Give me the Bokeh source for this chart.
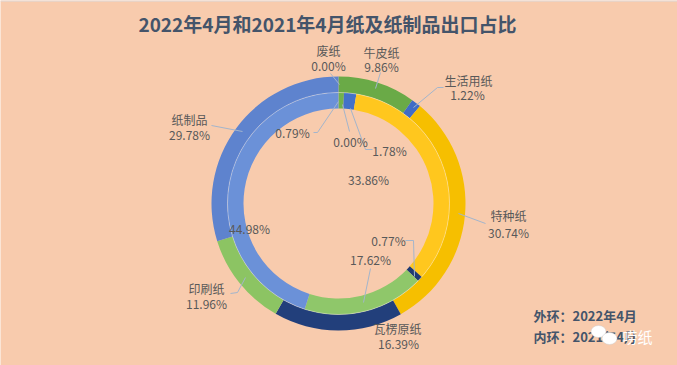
import numpy as np
from bokeh.plotting import figure
from bokeh.models import Range1d, ColumnDataSource
from bokeh.core.properties import value
from bokeh.embed import file_html
from bokeh.resources import INLINE

# ---------------- data ----------------
categories = ["废纸", "牛皮纸", "生活用纸", "特种纸", "瓦楞原纸", "印刷纸", "纸制品"]
share_2022 = [0.00, 9.86, 1.22, 30.74, 16.39, 11.96, 29.78]   # outer ring
share_2021 = [0.00, 0.79, 1.78, 33.86, 0.77, 17.62, 44.98]    # inner ring
title_text = "2022年4月和2021年4月纸及纸制品出口占比"
legend_lines = ["外环：2022年4月", "内环：2021年4月"]

# ---------------- style ----------------
BG = "#F8CBAD"
outer_colors = ["#6AAA47", "#6AAA47", "#3F6CC6", "#F6BF00", "#223F7B", "#8CC463", "#5E83CE"]
inner_colors = ["#79B855", "#72B24C", "#4472C8", "#FFC71E", "#1F3A72", "#8FC76A", "#6B91D8"]
FONT = value("Noto Sans CJK SC")
LABEL_COLOR = "#595959"
LEADER = "#A3B5CC"

W, H = 677, 365
def X(px):  # reference pixel -> data
    return px
def Y(py):
    return H - py

CX, CY = X(338), Y(203)
R_OUT, R_SEP, R_IN = 127, 111, 95

p = figure(width=W, height=H, x_range=Range1d(0, W), y_range=Range1d(0, H),
           output_backend="svg", toolbar_location=None, min_border=0,
           x_axis_type=None, y_axis_type=None,
           background_fill_color=BG, border_fill_color=BG, outline_line_color=None)
p.grid.visible = False

# thin grey strip along the top edge
p.quad(left=0, right=W, bottom=H - 1, top=H, fill_color="#DADCE0", line_color=None)


def ring(vals, colors, r0, r1):
    v = np.array(vals, dtype=float)
    frac = v / v.sum()
    cum = np.concatenate([[0.0], np.cumsum(frac)])
    start = np.pi / 2 - 2 * np.pi * cum[:-1]
    end = np.pi / 2 - 2 * np.pi * cum[1:]
    keep = v > 0
    src = ColumnDataSource(dict(start=start[keep], end=end[keep],
                                color=[c for c, k in zip(colors, keep) if k]))
    p.annular_wedge(x=CX, y=CY, inner_radius=r0, outer_radius=r1,
                    start_angle="start", end_angle="end", direction="clock",
                    fill_color="color", line_color=None, source=src)


ring(share_2022, outer_colors, R_SEP, R_OUT)
ring(share_2021, inner_colors, R_IN, R_SEP)
p.arc(x=CX, y=CY, radius=R_SEP, start_angle=0, end_angle=2 * np.pi,
      line_color="white", line_alpha=0.35, line_width=1)

# ---------------- leader lines (layout, reference px) ----------------
leaders = [
    [(330, 73), (339, 84)],
    [(380, 72), (375, 88)],
    [(443, 87), (437, 87), (413, 107)],
    [(485, 223), (458, 213)],
    [(230, 293), (237, 292), (245, 277)],
    [(211, 125), (242, 131)],
    [(313, 132), (317, 132), (338, 101)],
    [(349, 131), (342, 104)],
    [(372, 149), (365, 149), (350, 108)],
    [(405, 240), (413, 240), (414, 276)],
    [(370, 268), (363, 302)],
]
p.multi_line(xs=[[X(a) for a, b in L] for L in leaders],
             ys=[[Y(b) for a, b in L] for L in leaders],
             line_color=LEADER, line_width=1)

# ---------------- labels ----------------
outer_pos = [((328, 50), (328, 65)), ((381, 52), (381, 66)), ((468, 80), (467, 94)),
             ((508, 215), (508, 232)), ((397, 328), (398, 343)),
             ((206, 288), (206, 303)), ((189, 119), (189, 134))]
lx, ly, lt = [], [], []
for cat, val, (npos, vpos) in zip(categories, share_2022, outer_pos):
    lx += [X(npos[0]), X(vpos[0])]
    ly += [Y(npos[1]), Y(vpos[1])]
    lt += [cat, f"{val:.2f}%"]

inner_pos = [(350, 141), (292, 132), (389, 150), (368, 179), (388, 240), (370, 259), (249, 228)]
for val, pos in zip(share_2021, inner_pos):
    lx.append(X(pos[0]))
    ly.append(Y(pos[1]))
    lt.append(f"{val:.2f}%")

p.text(x=lx, y=ly, text=lt, text_font=FONT, text_font_size="12px",
       text_color=LABEL_COLOR, text_align="center", text_baseline="middle")

# title
p.text(x=[X(327)], y=[Y(23)], text=[title_text], text_font=FONT, text_font_size="19px",
       text_font_style="bold", text_color="#44546A", text_align="center", text_baseline="middle")

# ring legend
p.text(x=[X(533), X(533)], y=[Y(315), Y(336)], text=legend_lines, text_font=FONT,
       text_font_size="13px", text_font_style="bold", text_color="#44546A",
       text_align="left", text_baseline="middle")

# watermark
p.ellipse(x=[X(598), X(609)], y=[Y(331), Y(338)], width=[15, 15], height=[12, 12],
          fill_color="white", line_color="#CFCFCF", line_width=0.5)
p.text(x=[X(622)], y=[Y(336)], text=["唠纸"], text_font=FONT, text_font_size="15px",
       text_color="white", text_align="left", text_baseline="middle")

html = file_html(p, INLINE)
html = html.replace("<body>", f'<body style="background:{BG}">', 1)
open("out.html", "w").write(html)
